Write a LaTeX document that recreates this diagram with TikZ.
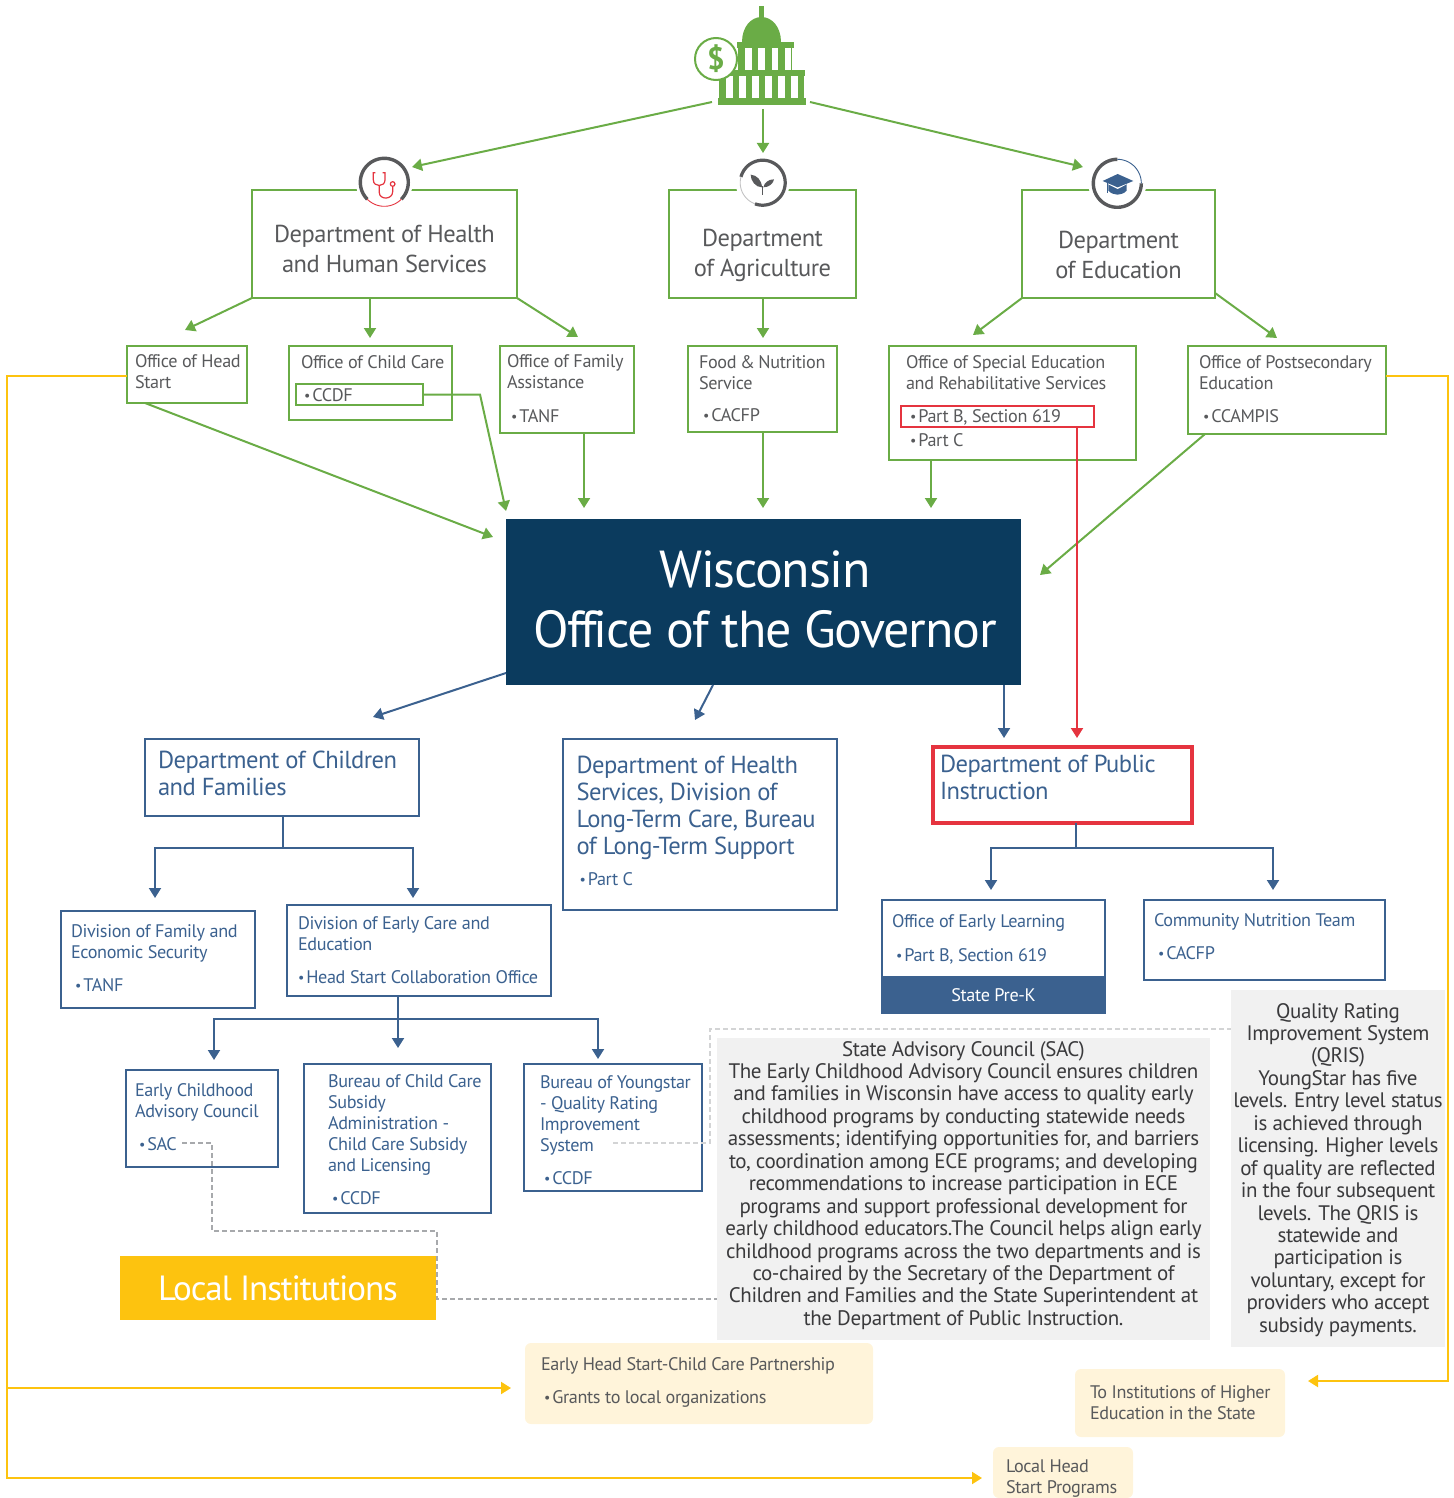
\documentclass[tikz,border=0pt]{standalone}
\usepackage{fontspec}
\setmainfont{PT Sans}[LetterSpace=-2]
\usetikzlibrary{arrows.meta}
\definecolor{gr}{HTML}{6AAC46}
\definecolor{bl}{HTML}{3B618F}
\definecolor{nv}{HTML}{0B3B5E}
\definecolor{dk}{HTML}{58595B}
\definecolor{tx}{HTML}{3A3A3C}
\definecolor{rd}{HTML}{E5343F}
\definecolor{ye}{HTML}{FDC30F}
\definecolor{lg}{HTML}{F1F1F1}
\definecolor{cr}{HTML}{FFF4DA}
\definecolor{da}{HTML}{A7A9AC}
\newcommand\fs[2]{\fontsize{#1}{#2}\selectfont}
\newcommand\bul{\raisebox{0.02em}{\fs{14}{14}•}\hspace{2pt}}
\newcommand\Of{Of\kern-.07em f\kern-.06em ice}
% style,name,x1,y1,x2,y2,textx,first baseline,text
\newcommand\bx[9]{\node[#1,anchor=north west,inner sep=0pt,outer sep=0pt] (#2) at (#3,#4)
 {\parbox[c][\dimexpr#6pt-#4pt\relax][t]{\dimexpr#5pt-#3pt\relax}{\parindent=0pt\leftskip=\dimexpr#7pt-#3pt\relax\rightskip=0pt plus 1fil\vspace*{\dimexpr#8pt-#4pt-1em\relax}\rule{0pt}{1em}#9}};}
\newcommand\ring[6]{\draw[#1] plot[domain=#5:#6,samples=50,smooth] ({#2+#4*cos(\x)},{#3-#4*sin(\x)});}
\tikzset{
 x=1pt,y=-1pt,
 gbig/.style={draw=gr,line width=2.8pt,text=dk,font=\fs{24.5}{30.5}},
 gsm/.style={draw=gr,line width=1.9pt,text=dk,font=\fs{18.2}{21}},
 bbig/.style={draw=bl,line width=2.6pt,text=bl,font=\fs{24.6}{27.3}},
 bsm/.style={draw=bl,line width=2pt,text=bl,font=\fs{18.2}{21}},
 rbig/.style={draw=rd,line width=3.2pt,text=bl,font=\fs{24.6}{27.3}},
 note/.style={fill=lg,text=tx,font=\fs{21}{22.45}},
 cream/.style={fill=cr,text=dk,rounded corners=6pt,font=\fs{18.2}{21}},
 gline/.style={draw=gr,line width=2pt,-{Triangle[length=10pt,width=12pt]}},
 bline/.style={draw=bl,line width=2pt,-{Triangle[length=10pt,width=12pt]}},
 bseg/.style={draw=bl,line width=2pt},
 rline/.style={draw=rd,line width=2pt,-{Triangle[length=10pt,width=12pt]}},
 yline/.style={draw=ye,line width=2pt,-{Triangle[length=10pt,width=12pt]}},
 dline/.style={draw=da,line width=2.4pt,dash pattern=on 5pt off 3pt},
 dlinel/.style={draw=da!50,line width=2.4pt,dash pattern=on 5pt off 3pt},
}
\begin{document}
\begin{tikzpicture}
\useasboundingbox (0,0) rectangle (1453,1498);
% big green departments
\bx{gbig}{dhhs}{252}{190}{517}{298}{252}{242}{\centering Department of Health\\and Human Services}
\bx{gbig}{agri}{669}{190}{856}{298}{669}{246}{\centering Department\\of Agriculture}
\bx{gbig}{edu}{1022}{190}{1215}{298}{1022}{248}{\centering Department\\of Education}
% offices
\bx{gsm}{head}{127}{346}{247}{403}{135}{367}{\Of\ of Head\\Start}
\bx{gsm}{care}{289}{346}{452}{420}{301}{368}{\Of\ of Child Care}
\bx{gsm}{ccdf}{296}{384}{423}{405}{304}{401}{\bul CCDF}
\bx{gsm}{family}{500}{346}{634}{433}{507}{367}{\Of\ of Family\\Assistance\\[13pt]\hspace*{4pt}\bul TANF}
\bx{gsm}{food}{688}{346}{837}{432}{699}{368}{Food\kern-1pt\ \&\kern-1pt\ Nutrition\\Service\\[11pt]\hspace*{4pt}\bul CACFP}
\bx{gsm}{sped}{889}{346}{1136}{460}{906}{368}{\Of\ of Special Education\\and Rehabilitative Services\\[36pt]\hspace*{4pt}\bul Part C}
\bx{gsm}{partb}{901}{406}{1094}{427}{910}{422}{\bul Part B, Section 619}
\node[draw=rd,line width=1.9pt,minimum width=193pt,minimum height=21pt,inner sep=0pt,outer sep=0pt,anchor=north west] (partbr) at (901,406) {};
\bx{gsm}{post}{1188}{346}{1386}{434}{1199}{368}{\Of\ of Postsecondary\\Education\\[12pt]\hspace*{4pt}\bul CCAMPIS}
% governor
\bx{fill=nv,text=white,font=\fs{52}{60}\addfontfeature{LetterSpace=-2.5}}{gov}{506}{519}{1021}{685}{506}{587}{\centering\hspace*{3pt}Wisconsin\\\hspace*{3pt}\Of\ of the Governor}
% blue
\bx{bbig}{dcf}{145}{739}{419}{816}{158}{768}{Department of Children\\and Families}
\bx{bbig}{dhs}{563}{739}{837}{910}{576.5}{773}{Department of Health\\Services, Division of\\Long-Term Care, Bureau\\of Long-Term Support\\[3pt]\hspace*{3pt}{\fs{18.2}{21}\bul Part C}}
\bx{rbig}{dpi}{933}{747}{1192}{823}{940}{772}{Department of Public\\Instruction}
\bx{bsm}{dfes}{61}{911}{255}{1008}{71}{937}{Division of Family and\\Economic Security\\[12pt]\hspace*{4pt}\bul TANF}
\bx{bsm}{dece}{287}{905}{551}{996}{298}{929}{Division of Early Care and\\Education\\[12pt]\bul Head Start Collaboration \Of}
\bx{bsm}{oel}{882}{900}{1105}{1005}{892}{927}{\Of\ of Early Learning\\[13pt]\hspace*{4pt}\bul Part B, Section 619}
\node[fill=bl,text=white,font=\fs{18.2}{21},minimum width=225pt,minimum height=38pt,inner sep=0pt,outer sep=0pt,anchor=north west] (prek) at (881,976) {State Pre-K};
\bx{bsm}{cnt}{1144}{900}{1385}{980}{1154}{926}{Community Nutrition Team\\[12pt]\hspace*{4pt}\bul CACFP}
\bx{bsm}{ecac}{126}{1070}{278}{1167}{135}{1096}{Early Childhood\\Advisory Council\\[12pt]\hspace*{4pt}\bul SAC}
\bx{bsm}{bccs}{304}{1064}{491}{1213}{328}{1087}{Bureau of Child Care\\Subsidy\\Administration -\\Child Care Subsidy\\and Licensing\\[12pt]\hspace*{4pt}\bul CCDF}
\bx{bsm}{byq}{524}{1064}{702}{1191}{540}{1088}{Bureau of Youngstar\\- Quality Rating\\Improvement\\System\\[12pt]\hspace*{4pt}\bul CCDF}
% local
\node[fill=ye,text=white,font=\fs{35}{40}\addfontfeature{LetterSpace=-3.2},minimum width=316pt,minimum height=64pt,inner sep=0pt,outer sep=0pt,anchor=north west] (local) at (120,1256) {Local Institutions};
% notes
\bx{note}{sac}{717}{1038}{1210}{1340}{717}{1056}{\centering State Advisory Council (SAC)\\The Early Childhood Advisory Council ensures children\\and families in Wisconsin have access to quality early\\childhood programs by conducting statewide needs\\assessments; identifying opportunities for, and barriers\\to, coordination among ECE programs; and developing\\recommendations to increase participation in ECE\\programs and support professional development for\\early childhood educators.The Council helps align early\\childhood programs across the two departments and is\\co-chaired by the Secretary of the Department of\\Children and Families and the State Superintendent at\\the Department of Public Instruction.}
\bx{note}{qris}{1231}{990}{1445}{1347}{1231}{1018}{\centering Quality Rating\\Improvement System\\(QRIS)\\YoungStar has five\\levels. Entry level status\\is achieved through\\licensing. Higher levels\\of quality are reflected\\in the four subsequent\\levels. The QRIS is\\statewide and\\participation is\\voluntary, except for\\providers who accept\\subsidy payments.}
\bx{cream}{ehs}{525}{1343}{873}{1424}{541}{1370}{Early Head Start-Child Care Partnership\\[12pt]\hspace*{3pt}\bul Grants to local organizations}
\bx{cream}{ihe}{1075}{1369}{1285}{1437}{1090}{1398}{To Institutions of Higher\\Education in the State}
\bx{cream}{lhs}{993}{1447}{1133}{1498}{1006}{1472}{Local Head\\Start Programs}
% capitol
\begin{scope}
\fill[gr] (759,20) rectangle (763.5,6);
\fill[gr] (742,42) .. controls (742,27) and (751,17) .. (761.5,17) .. controls (772,17) and (781,27) .. (781,42) -- cycle;
\fill[gr] (737,42) rectangle (794,48);
\fill[gr] (738,48) rectangle (792,70);
\fill[white] (745,48) rectangle (751.5,70);
\fill[white] (758,48) rectangle (765,70);
\fill[white] (771.5,48) rectangle (778,70);
\fill[white] (785,48) rectangle (791,70);
\fill[gr] (720,70) rectangle (805,76);
\fill[gr] (719,76) rectangle (804,98);
\foreach \q in {726,739,752,765,778,791}{\fill[white] (\q,76) rectangle (\q+7,98);}
\fill[gr] (718,98) rectangle (806,105);
\end{scope}
\node[circle,draw=gr,fill=white,line width=2pt,minimum size=42pt,inner sep=0pt,text=gr,font=\bfseries\fs{31}{31}] (dollar) at (716,59) {\$};
\coordinate (capL) at (712,102);
\coordinate (capM) at (763,109);
\coordinate (capR) at (810,102);
% connectors green
\coordinate (tDhhs) at (412,167);
\coordinate (tAgri) at (763,153);
\coordinate (tEdu) at (1083,167);
\draw[gline] (capL) -- (tDhhs);
\draw[gline] (capM) -- (tAgri);
\draw[gline] (capR) -- (tEdu);
\coordinate (tHead) at (185,330);
\coordinate (tCare) at (370,338);
\coordinate (tFam) at (578,337);
\coordinate (sCare) at (370,298);
\draw[gline] (dhhs.south west) -- (tHead);
\draw[gline] (sCare) -- (tCare);
\draw[gline] (dhhs.south east) -- (tFam);
\coordinate (tFood) at (763,338);
\coordinate (sFood) at (763,298);
\draw[gline] (sFood) -- (tFood);
\coordinate (tSped) at (973,335);
\coordinate (tPost) at (1277,338);
\coordinate (sPost) at (1215,293);
\draw[gline] (edu.south west) -- (tSped);
\draw[gline] (sPost) -- (tPost);
\coordinate (sH) at (145,403);
\coordinate (tH) at (493,537);
\coordinate (bC) at (480,394.5);
\coordinate (tC) at (506,511);
\coordinate (sF) at (584,433);
\coordinate (tF) at (584,508);
\coordinate (sN) at (763,432);
\coordinate (tN) at (763,508);
\coordinate (sS) at (931,460);
\coordinate (tS) at (931,508);
\coordinate (sP) at (1205,434);
\coordinate (tP) at (1040,575);
\draw[gline] (sH) -- (tH);
\draw[gline] (ccdf.east) -- (bC) -- (tC);
\draw[gline] (sF) -- (tF);
\draw[gline] (sN) -- (tN);
\draw[gline] (sS) -- (tS);
\draw[gline] (sP) -- (tP);
% red
\coordinate (sR) at (1077,427);
\coordinate (tR) at (1077,738);
\draw[rline] (sR) -- (tR);
% blue
\coordinate (s1) at (506,673);
\coordinate (t1) at (373,717);
\coordinate (s2) at (713,685);
\coordinate (t2) at (695,720);
\coordinate (s3) at (1004,685);
\coordinate (t3) at (1004,738);
\draw[bline] (s1) -- (t1);
\draw[bline] (s2) -- (t2);
\draw[bline] (s3) -- (t3);
\coordinate (j1) at (283,848);
\coordinate (s4) at (283,816);
\coordinate (t41) at (155,898);
\coordinate (t42) at (413,898);
\draw[bseg] (s4) -- (j1);
\draw[bline] (j1) -| (t41);
\draw[bline] (j1) -| (t42);
\coordinate (j2) at (1076,848);
\coordinate (s5) at (1076,823);
\coordinate (t51) at (991,890);
\coordinate (t52) at (1273,890);
\draw[bseg] (s5) -- (j2);
\draw[bline] (j2) -| (t51);
\draw[bline] (j2) -| (t52);
\coordinate (s6) at (398,996);
\coordinate (j3) at (398,1019);
\coordinate (t61) at (214,1060);
\coordinate (t62) at (398,1048);
\coordinate (t63) at (598,1059);
\draw[bline] (s6) -- (t62);
\draw[bline] (j3) -| (t61);
\draw[bline] (j3) -| (t63);
% yellow
\coordinate (y1) at (7,376);
\coordinate (y2) at (7,1478);
\coordinate (y3) at (982,1478);
\coordinate (y4) at (7,1388);
\coordinate (y5) at (511,1388);
\coordinate (y6) at (1448,376);
\coordinate (y7) at (1448,1381);
\coordinate (y8) at (1308,1381);
\draw[yline] (head.west |- y1) -- (y1) -- (y2) -- (y3);
\draw[yline] (y4) -- (y5);
\draw[yline] (post.east |- y6) -- (y6) -- (y7) -- (y8);
% dashed
\coordinate (d0) at (182,1143);
\coordinate (d1) at (212,1143);
\coordinate (d2) at (212,1231);
\coordinate (d3) at (437,1231);
\coordinate (d4) at (437,1299);
\coordinate (d5) at (717,1299);
\draw[dline] (d0) -- (d1) -- (d2) -- (d3) -- (d4) -- (d5);
\coordinate (e0) at (613,1143);
\coordinate (e1) at (710,1143);
\coordinate (e2) at (710,1029);
\coordinate (e3) at (1231,1029);
\draw[dlinel] (e0) -- (e1) -- (e2) -- (e3);
% icon: stethoscope
\node[circle,fill=white,minimum size=57pt,inner sep=0pt] (iconH) at (384.3,182.3) {};
\ring{dk,line width=3.4pt}{384.3}{182.3}{24}{-45}{225}
\ring{rd,line width=0.9pt}{384.3}{182.3}{24}{225}{315}
\begin{scope}[shift={(340,150)},x=0.3333pt,y=-0.3333pt]
\draw[rd,line width=1.2pt] (106,68) -- (100,68) -- (100,90) .. controls (100,112) and (135,112) .. (135,90) -- (135,68) -- (128,68);
\draw[rd,line width=1.2pt] (118,107) -- (118,128) .. controls (118,150) and (158,150) .. (158,125) -- (158,109);
\draw[rd,line width=1.2pt] (158,102) circle[radius=2.3pt];
\end{scope}
% icon: plant
\node[circle,fill=white,minimum size=54pt,inner sep=0pt] (iconA) at (762.7,182.7) {};
\ring{dk,line width=3.2pt}{762.7}{182.7}{22.5}{-110}{165}
\ring{lg!70!dk,line width=0.9pt}{762.7}{182.7}{22.5}{165}{250}
\begin{scope}[shift={(720,150)},x=0.3333pt,y=-0.3333pt]
\draw[dk,line width=1.3pt] (128,135) -- (128,108);
\fill[dk] (126,112) .. controls (125,90) and (110,75) .. (92,74) .. controls (92,92) and (106,112) .. (126,112) -- cycle;
\fill[dk] (130,112) .. controls (133,98) and (145,88) .. (162,88) .. controls (160,100) and (148,112) .. (130,112) -- cycle;
\end{scope}
% icon: cap
\node[circle,fill=white,minimum size=58pt,inner sep=0pt] (iconE) at (1117.3,183.3) {};
\ring{dk,line width=3.4pt}{1117.3}{183.3}{24}{90}{360}
\ring{bl,line width=0.9pt}{1117.3}{183.3}{24}{0}{90}
\begin{scope}[shift={(1070,150)},x=0.3333pt,y=-0.3333pt]
\fill[bl] (115,100) -- (170,100) -- (170,122) .. controls (155,138) and (130,138) .. (115,122) -- cycle;
\fill[white] (115,97) -- (143,112) -- (170,97) -- (170,103) -- (143,117) -- (115,103) -- cycle;
\fill[bl] (98,93) -- (143,72) -- (190,93) -- (143,112) -- cycle;
\draw[bl,line width=1.1pt] (112,95) -- (112,130);
\end{scope}
\end{tikzpicture}
\end{document}
